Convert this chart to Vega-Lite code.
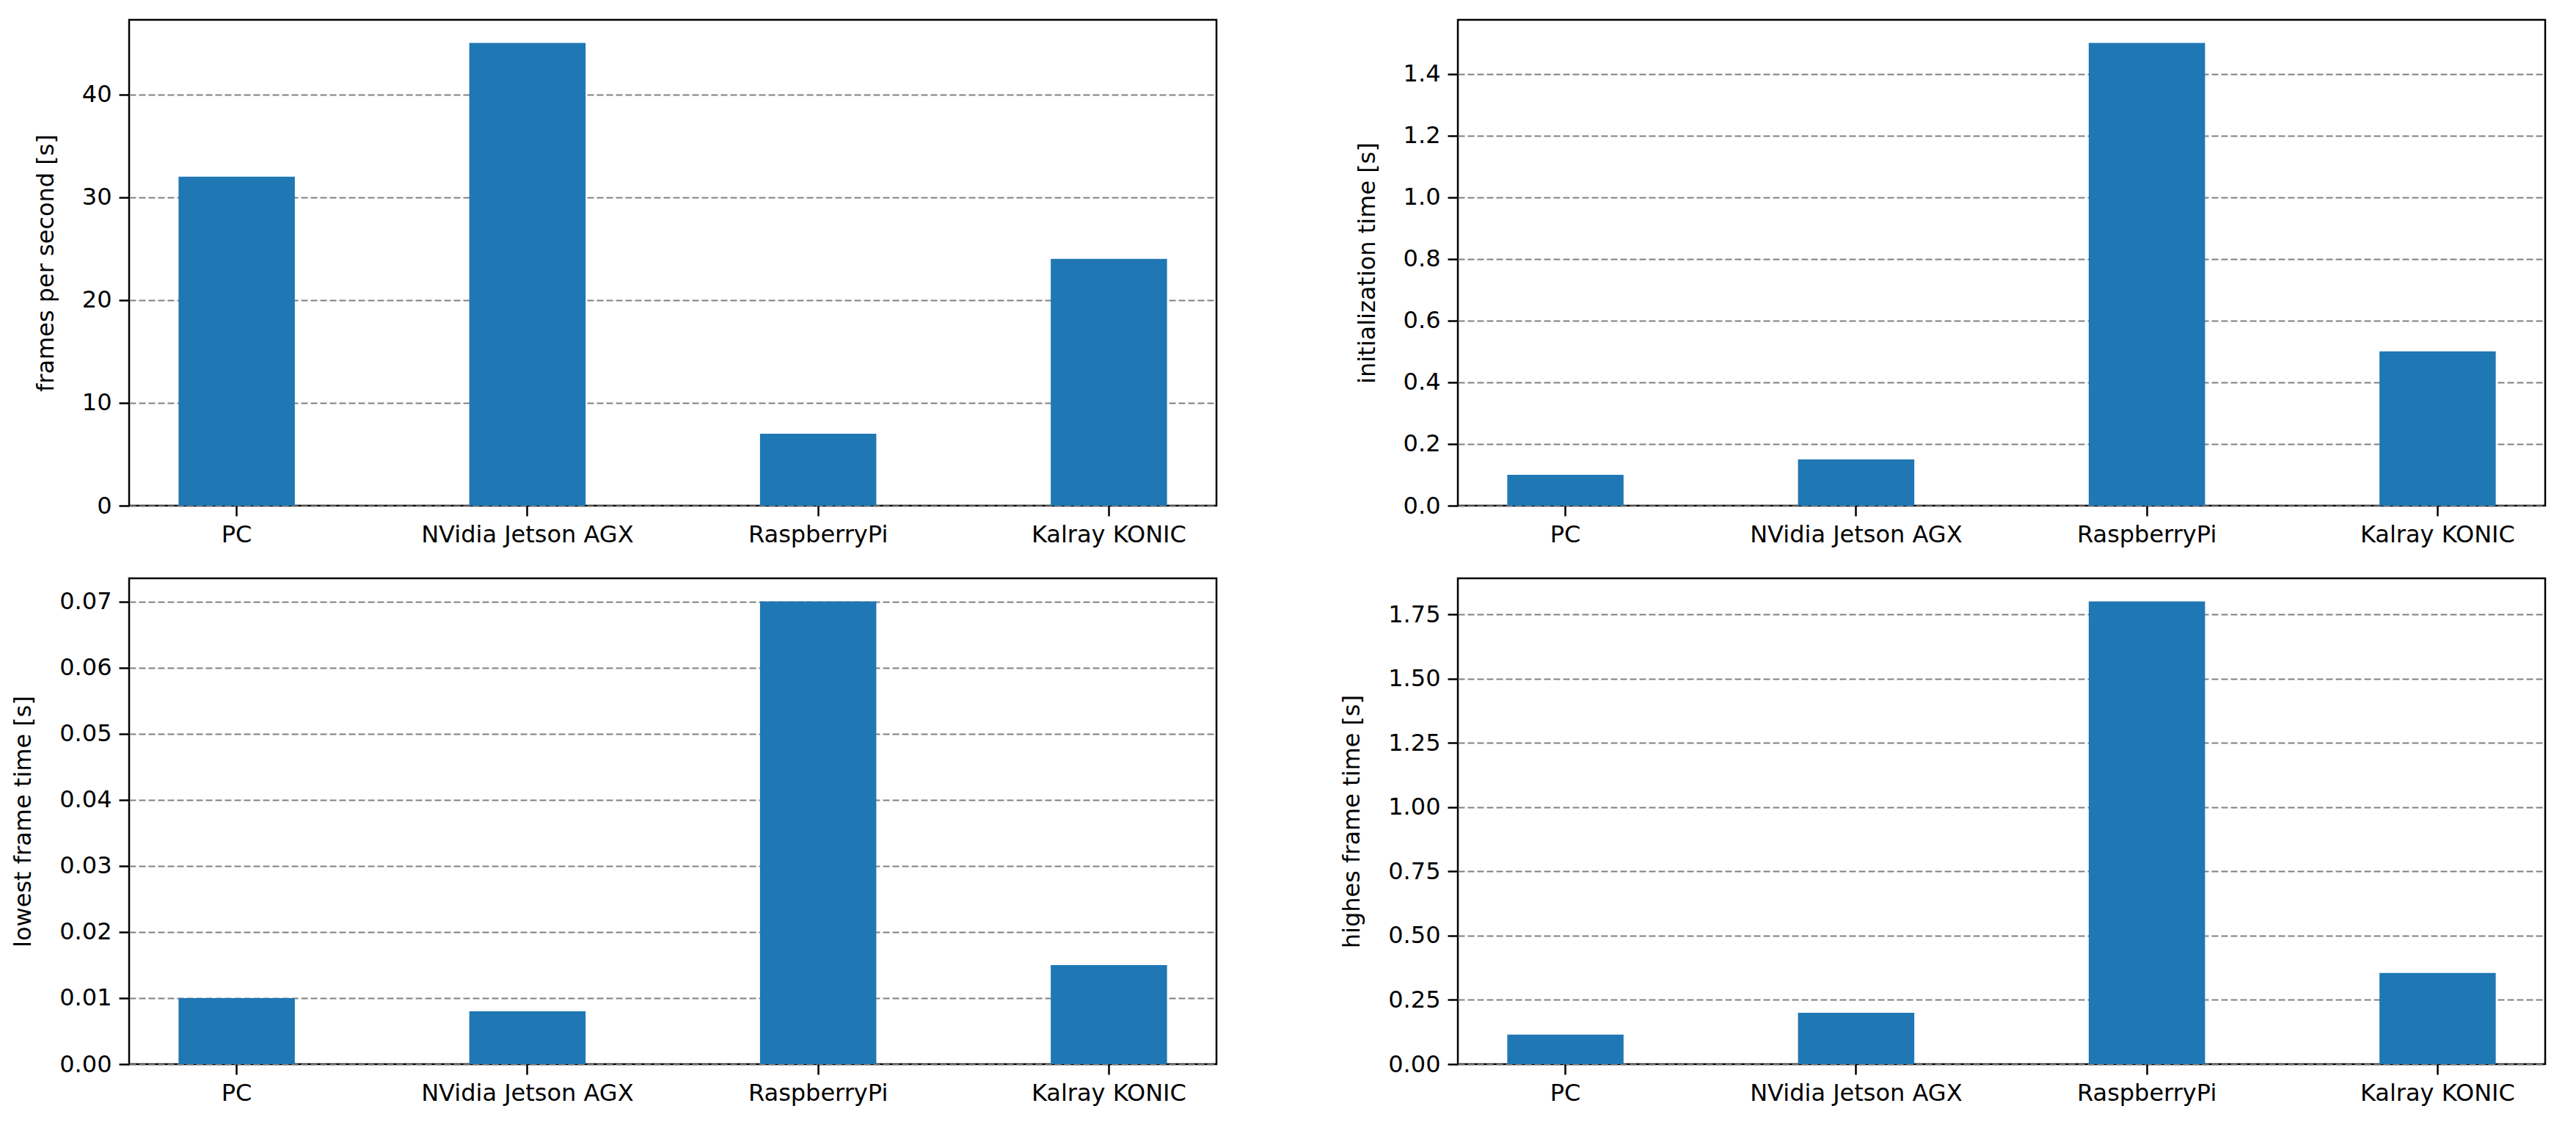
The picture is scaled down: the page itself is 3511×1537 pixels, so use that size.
{
  "$schema": "https://vega.github.io/schema/vega-lite/v6.json",
  "background": "white",
  "padding": {"left": 14, "top": 25, "right": 5, "bottom": 5},
  "data": {"values": [
    {"device": "PC", "fps": 32, "init": 0.1, "lowest": 0.01, "highest": 0.115},
    {"device": "NVidia Jetson AGX", "fps": 45, "init": 0.15, "lowest": 0.008, "highest": 0.2},
    {"device": "RaspberryPi", "fps": 7, "init": 1.5, "lowest": 0.07, "highest": 1.8},
    {"device": "Kalray KONIC", "fps": 24, "init": 0.5, "lowest": 0.015, "highest": 0.355}
  ]},
  "columns": 2,
  "spacing": {"column": 165, "row": 40},
  "concat": [
    {
      "width": 1482, "height": 662,
      "mark": {"type": "bar", "color": "#1f77b4"},
      "encoding": {
        "x": {"field": "device", "type": "nominal", "sort": null, "title": null,
              "scale": {"type": "band", "paddingInner": 0.6, "paddingOuter": 0.17}},
        "y": {"field": "fps", "type": "quantitative", "title": "frames per second [s]",
              "scale": {"domain": [0, 47.25], "nice": false},
              "axis": {"values": [0, 10, 20, 30, 40], "format": "d"}}
      }
    },
    {
      "width": 1482, "height": 662,
      "mark": {"type": "bar", "color": "#1f77b4"},
      "encoding": {
        "x": {"field": "device", "type": "nominal", "sort": null, "title": null,
              "scale": {"type": "band", "paddingInner": 0.6, "paddingOuter": 0.17}},
        "y": {"field": "init", "type": "quantitative", "title": "initialization time [s]",
              "scale": {"domain": [0, 1.575], "nice": false},
              "axis": {"values": [0, 0.2, 0.4, 0.6, 0.8, 1.0, 1.2, 1.4], "format": ".1f"}}
      }
    },
    {
      "width": 1482, "height": 662,
      "mark": {"type": "bar", "color": "#1f77b4"},
      "encoding": {
        "x": {"field": "device", "type": "nominal", "sort": null, "title": null,
              "scale": {"type": "band", "paddingInner": 0.6, "paddingOuter": 0.17}},
        "y": {"field": "lowest", "type": "quantitative", "title": "lowest frame time [s]",
              "scale": {"domain": [0, 0.0735], "nice": false},
              "axis": {"values": [0, 0.01, 0.02, 0.03, 0.04, 0.05, 0.06, 0.07], "format": ".2f"}}
      }
    },
    {
      "width": 1482, "height": 662,
      "mark": {"type": "bar", "color": "#1f77b4"},
      "encoding": {
        "x": {"field": "device", "type": "nominal", "sort": null, "title": null,
              "scale": {"type": "band", "paddingInner": 0.6, "paddingOuter": 0.17}},
        "y": {"field": "highest", "type": "quantitative", "title": "highes frame time [s]",
              "scale": {"domain": [0, 1.89], "nice": false},
              "axis": {"values": [0, 0.25, 0.5, 0.75, 1.0, 1.25, 1.5, 1.75], "format": ".2f"}}
      }
    }
  ],
  "config": {
    "view": {"stroke": "black", "strokeWidth": 2.5},
    "axis": {
      "labelFont": "DejaVu Sans", "labelFontSize": 32, "labelColor": "black", "labelLimit": 0,
      "titleFont": "DejaVu Sans", "titleFontSize": 32, "titleFontWeight": "normal", "titleColor": "black",
      "tickColor": "black", "tickWidth": 2.5, "tickSize": 14, "labelPadding": 10,
      "domain": false, "titlePadding": 32
    },
    "axisY": {"grid": true, "gridColor": "#808080", "gridDash": [9, 4], "gridWidth": 2},
    "axisX": {"grid": false, "labelAngle": 0}
  }
}
